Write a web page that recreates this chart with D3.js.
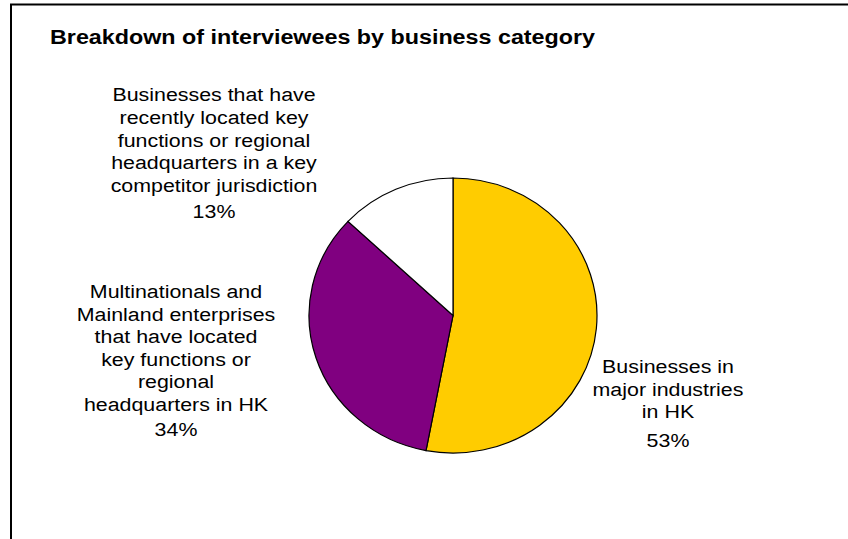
<!DOCTYPE html>
<html>
<head>
<meta charset="utf-8">
<script src="https://cdn.jsdelivr.net/npm/d3@7"></script>
<style>
  html, body { margin: 0; padding: 0; background: #fff; }
  svg { display: block; }
  text { font-family: "Liberation Sans", Arial, sans-serif; fill: #000; }
</style>
</head>
<body>
<svg id="chart" width="848" height="539"></svg>
<script>
// Interviewee breakdown by business category
const categories = [
  "Businesses in major industries in HK",
  "Multinationals and Mainland enterprises that have located key functions or regional headquarters in HK",
  "Businesses that have recently located key functions or regional headquarters in a key competitor jurisdiction"
];
const shares = [53, 34, 13];
const sliceColors = ["#FFCC00", "#800080", "#FFFFFF"];
// Wrapped label lines as they appear beside each slice
const labelLines = [
  ["Businesses in", "major industries", "in HK"],
  ["Multinationals and", "Mainland enterprises", "that have located", "key functions or", "regional", "headquarters in HK"],
  ["Businesses that have", "recently located key", "functions or regional", "headquarters in a key", "competitor jurisdiction"]
];
const title = "Breakdown of interviewees by business category";

const svg = d3.select("#chart");
const stretchX = 1.15;

// frame (right and bottom edges fall outside the view)
svg.append("rect")
  .attr("x", 11).attr("y", 4.5)
  .attr("width", 900).attr("height", 600)
  .attr("fill", "#fff")
  .attr("stroke", "#000")
  .attr("stroke-width", 2);

svg.append("g")
  .attr("transform", "translate(50,43.5) scale(1.11,1)")
  .append("text")
  .attr("x", 0).attr("y", 0)
  .attr("font-size", 21).attr("font-weight", "bold")
  .text(title);

// pie, slightly wider than tall
const cx = 453, cy = 315.5, rx = 144, ry = 137.5;
const pie = d3.pie().sort(null).value(d => d)(shares);
const arc = d3.arc().innerRadius(0).outerRadius(rx);

const g = svg.append("g")
  .attr("transform", `translate(${cx},${cy}) scale(1,${ry / rx})`);
g.selectAll("path")
  .data(pie)
  .join("path")
  .attr("d", arc)
  .attr("fill", (d, i) => sliceColors[i])
  .attr("stroke", "#000")
  .attr("stroke-width", 1.2)
  .attr("vector-effect", "non-scaling-stroke");

// label anchor points: centre x, first baseline, extra gap before the percentage
const labelPos = [
  { x: 668, y: 373, pct: 6 },
  { x: 176, y: 298, pct: 2.5 },
  { x: 214, y: 101.5, pct: 3.5 }
];
const lineGap = 22.6;
const fmt = d3.format(".0f");

labelPos.forEach((p, i) => {
  const t = svg.append("g")
    .attr("transform", `translate(${p.x},0) scale(${stretchX},1)`)
    .append("text")
    .attr("text-anchor", "middle")
    .attr("font-size", 18.6);
  labelLines[i].forEach((ln, k) => {
    t.append("tspan").attr("x", 0).attr("y", p.y + k * lineGap).text(ln);
  });
  t.append("tspan")
    .attr("x", 0)
    .attr("y", p.y + labelLines[i].length * lineGap + p.pct)
    .text(fmt(shares[i]) + "%");
});
</script>
</body>
</html>
